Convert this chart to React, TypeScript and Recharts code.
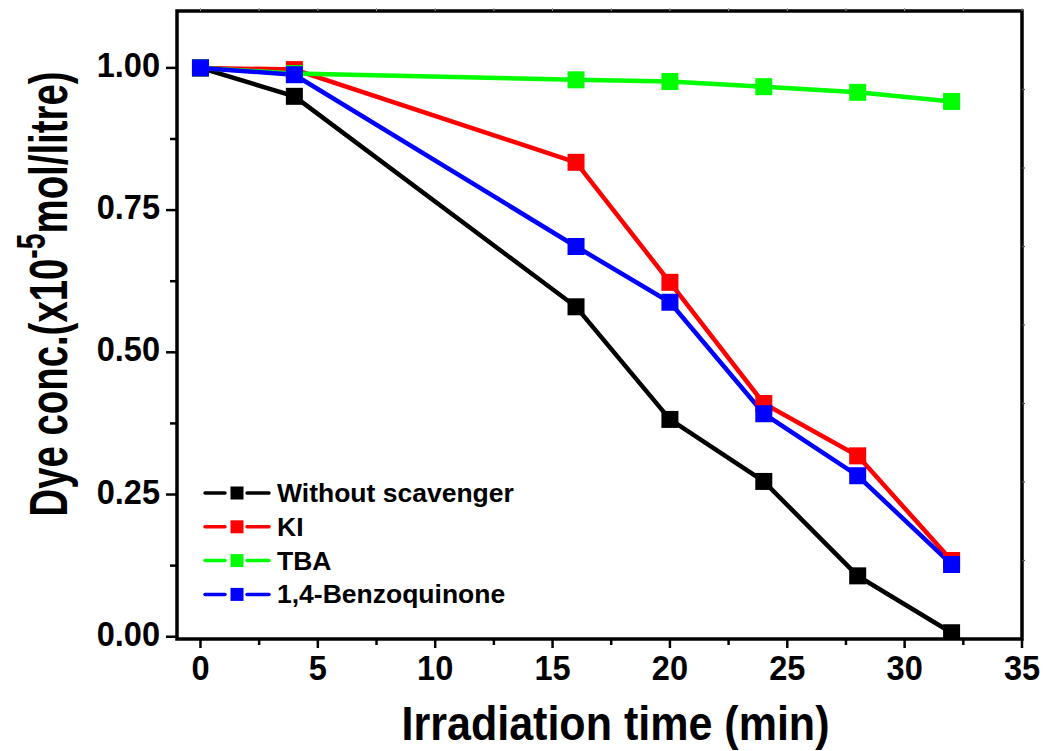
import React from 'react';
import { LineChart, Line, XAxis, YAxis, Legend, Label, ReferenceArea } from 'recharts';

const times = [0, 4, 16, 20, 24, 28, 32];
const withoutScavenger = [1.0, 0.95, 0.58, 0.382, 0.273, 0.107, 0.007];
const ki = [1.0, 0.997, 0.834, 0.623, 0.41, 0.318, 0.134];
const tba = [1.0, 0.99, 0.979, 0.976, 0.967, 0.957, 0.941];
const benzoquinone = [1.0, 0.988, 0.686, 0.588, 0.392, 0.283, 0.127];

const xTicks = [0, 2.5, 5, 7.5, 10, 12.5, 15, 17.5, 20, 22.5, 25, 27.5, 30, 32.5, 35];
const yTicks = [0, 0.125, 0.25, 0.375, 0.5, 0.625, 0.75, 0.875, 1.0];
const xDomain = [-1, 35];
const yDomain = [-0.004, 1.1];

const series = [
  { key: 'ws', name: 'Without scavenger', color: '#000000', values: withoutScavenger },
  { key: 'ki', name: 'KI', color: '#ff0000', values: ki },
  { key: 'tba', name: 'TBA', color: '#00ff00', values: tba },
  { key: 'bq', name: '1,4-Benzoquinone', color: '#0000ff', values: benzoquinone },
];

const data = times.map((t, i) => {
  const row: Record<string, number> = { t };
  series.forEach((s) => {
    row[s.key] = s.values[i];
  });
  return row;
});

const FONT = '"Liberation Sans", Arial, sans-serif';

const XTick = (props: any) => {
  const { x, y, payload } = props;
  const v = payload.value;
  const major = Math.abs(v / 5 - Math.round(v / 5)) < 1e-6;
  return (
    <g>
      <line x1={x} x2={x} y1={y} y2={y + (major ? 9 : 6)} stroke="#000" strokeWidth={2.5} />
      <line x1={x} x2={x} y1={11} y2={8} stroke="#999" strokeWidth={1} />
      {major && (
        <text
          transform={`translate(${x} ${y + 41}) scale(0.93 1)`}
          textAnchor="middle"
          fontSize={35}
          fontWeight="bold"
          fontFamily={FONT}
          fill="#000"
        >
          {v}
        </text>
      )}
    </g>
  );
};

const YTick = (props: any) => {
  const { x, y, payload } = props;
  const v = payload.value;
  const major = Math.abs(v * 4 - Math.round(v * 4)) < 1e-6;
  return (
    <g>
      <line x1={x - (major ? 11 : 7)} x2={x} y1={y} y2={y} stroke="#000" strokeWidth={2.5} />
      {major && (
        <text
          transform={`translate(${x - 17} ${y + 9}) scale(0.93 1)`}
          textAnchor="end"
          fontSize={35}
          fontWeight="bold"
          fontFamily={FONT}
          fill="#000"
        >
          {v.toFixed(2)}
        </text>
      )}
    </g>
  );
};

const XTitle = (props: any) => {
  const vb = props.viewBox || { x: 177, y: 639, width: 845, height: 100 };
  const cx = vb.x + vb.width / 2 + 16;
  return (
    <text
      x={cx}
      y={vb.y + 101}
      textAnchor="middle"
      fontSize={49}
      fontWeight="bold"
      fontFamily={FONT}
      textLength={428}
      lengthAdjust="spacingAndGlyphs"
      fill="#000"
    >
      Irradiation time (min)
    </text>
  );
};

const YTitle = (props: any) => {
  const vb = props.viewBox || { x: 57, y: 11, width: 120, height: 628 };
  const bx = vb.x + 10;
  const cy = vb.y + 283;
  return (
    <text
      transform={`translate(${bx} ${cy}) rotate(-90)`}
      textAnchor="middle"
      fontSize={54}
      fontWeight="bold"
      fontFamily={FONT}
      textLength={445}
      lengthAdjust="spacingAndGlyphs"
      fill="#000"
    >
      <tspan>Dye conc.(x10</tspan>
      <tspan dy={-22} fontSize={40}>-5</tspan>
      <tspan dy={22}>mol/litre)</tspan>
    </text>
  );
};

const Square = (color: string, size: number) => (props: any) => {
  const { cx, cy, index } = props;
  if (cx == null || cy == null) return <g key={index} />;
  return (
    <rect
      key={index}
      x={cx - size / 2}
      y={cy - size / 2}
      width={size}
      height={size}
      fill={color}
    />
  );
};

const FrameShape = (props: any) => {
  const { x, y, width, height } = props;
  if (x == null || y == null) return <g />;
  return (
    <g>
      <rect x={x} y={y} width={width} height={height} fill="none" stroke="#000" strokeWidth={3.5} />
      {[0.125, 0.25, 0.375, 0.5, 0.625, 0.75, 0.875].map((f) => (
        <line
          key={f}
          x1={x + width}
          x2={x + width + 3}
          y1={y + height * f}
          y2={y + height * f}
          stroke="#555"
          strokeWidth={1.2}
        />
      ))}
    </g>
  );
};

const LegendContent = () => (
  <svg width={360} height={135} style={{ display: 'block' }}>
    {series.map((s, i) => {
      const cy = 15 + i * 33.8;
      return (
        <g key={s.key}>
          <line x1={10} x2={30} y1={cy} y2={cy} stroke={s.color} strokeWidth={3.5} strokeLinecap="round" />
          <line x1={52} x2={74} y1={cy} y2={cy} stroke={s.color} strokeWidth={3.5} strokeLinecap="round" />
          <rect x={35.5} y={cy - 6.5} width={13} height={13} fill={s.color} />
          <text x={82} y={cy + 9} fontSize={26.5} fontWeight="bold" fontFamily={FONT} fill="#000">
            {s.name}
          </text>
        </g>
      );
    })}
  </svg>
);

export default function App() {
  return (
    <div style={{ position: 'absolute', left: 0, top: 0, width: 1047, height: 751, background: '#fff' }}>
      <LineChart
        width={1047}
        height={751}
        data={data}
        margin={{ top: 11, right: 25, bottom: 12, left: 57 }}
      >
        <XAxis
          dataKey="t"
          type="number"
          domain={xDomain}
          allowDataOverflow
          ticks={xTicks}
          interval={0}
          height={100}
          tickSize={0}
          tickMargin={0}
          tickLine={false}
          axisLine={false}
          tick={<XTick />}
        >
          <Label content={<XTitle />} />
        </XAxis>
        <YAxis
          type="number"
          domain={yDomain}
          allowDataOverflow
          ticks={yTicks}
          interval={0}
          width={120}
          tickSize={0}
          tickMargin={0}
          tickLine={false}
          axisLine={false}
          tick={<YTick />}
        >
          <Label content={<YTitle />} />
        </YAxis>
        <ReferenceArea
          x1={xDomain[0]}
          x2={xDomain[1]}
          y1={yDomain[0]}
          y2={yDomain[1]}
          ifOverflow="visible"
          shape={<FrameShape />}
        />
        {series.map((s) => (
          <Line
            key={s.key}
            dataKey={s.key}
            name={s.name}
            stroke={s.color}
            strokeWidth={4.5}
            isAnimationActive={false}
            dot={Square(s.color, 17)}
            activeDot={false}
          />
        ))}
        <Legend
          layout="horizontal"
          verticalAlign="middle"
          align="center"
          wrapperStyle={{ left: 195, top: 478, width: 360, height: 135 }}
          content={<LegendContent />}
        />
      </LineChart>
    </div>
  );
}
